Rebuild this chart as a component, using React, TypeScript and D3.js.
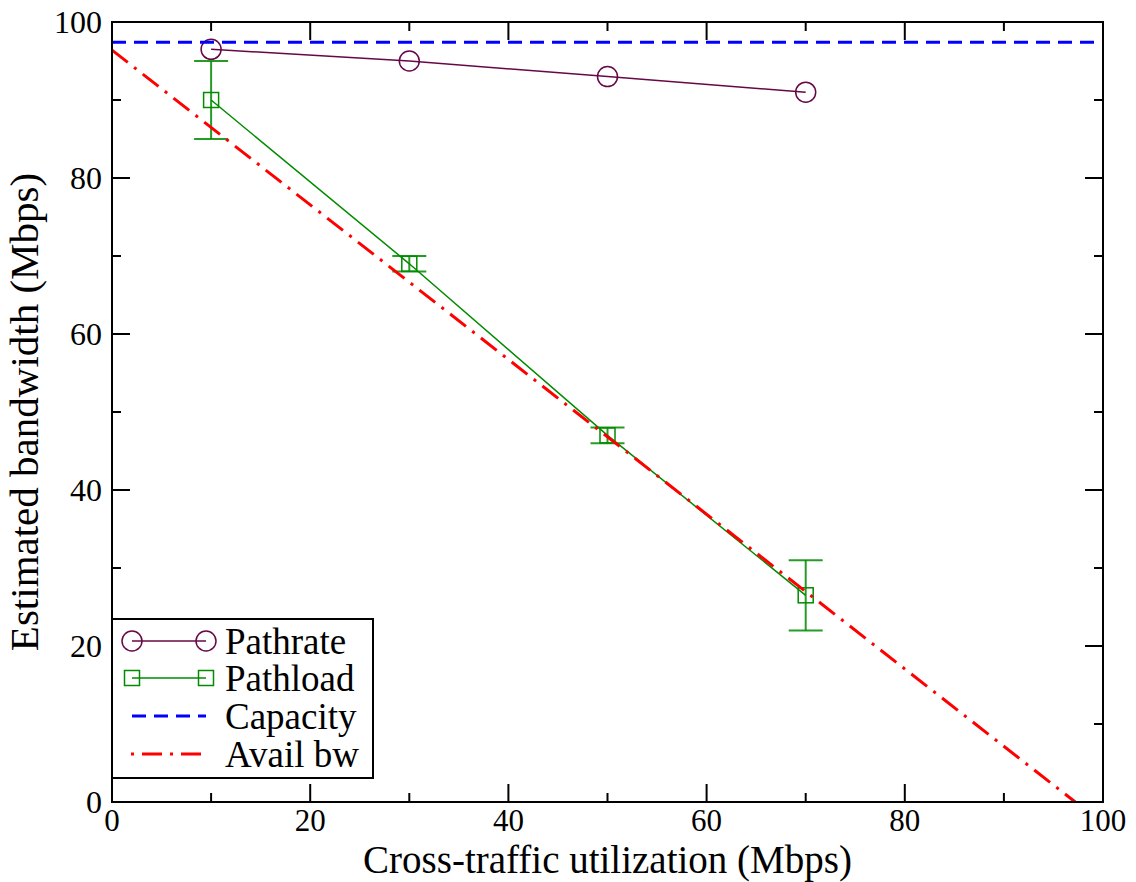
import React from 'react'
import { scaleLinear, line, range } from 'd3'

// measured points
const xVals = [10, 30, 50, 70]
const pathrate = [96.5, 95, 93, 91]
const pathload = [90, 69, 47, 26.5]
const pathloadLow = [85, 68, 46, 22]
const pathloadHigh = [95, 70, 48, 31]

// reference lines
const capacityX = [0, 100]
const capacityY = [97.4, 97.4]
const availX = [0, 97.2]
const availY = [96.4, 0]

const xTicks = [0, 20, 40, 60, 80, 100]
const yTicks = [0, 20, 40, 60, 80, 100]
const legendNames = ['Pathrate', 'Pathload', 'Capacity', 'Avail bw']

const MAROON = '#670748'
const GREEN = '#008b00'
const FONT = "'Liberation Serif', 'Times New Roman', serif"

function Frame(props) {
  const { xScale, yScale } = props
  const [x0, x1] = xScale.range()
  const [y0, y1] = yScale.range()
  const minorX = range(10, 100, 20)
  const minorY = range(10, 100, 20)
  const major = 18
  const minor = 9

  return <g stroke="black" strokeWidth={2}>
    {xTicks.map(t => <g key={'xt' + t}>
      <line x1={xScale(t)} x2={xScale(t)} y1={y0} y2={y0 - major} />
      <line x1={xScale(t)} x2={xScale(t)} y1={y1} y2={y1 + major} />
    </g>)}
    {minorX.map(t => <g key={'xm' + t}>
      <line x1={xScale(t)} x2={xScale(t)} y1={y0} y2={y0 - minor} />
      <line x1={xScale(t)} x2={xScale(t)} y1={y1} y2={y1 + minor} />
    </g>)}
    {yTicks.map(t => <g key={'yt' + t}>
      <line x1={x0} x2={x0 + major} y1={yScale(t)} y2={yScale(t)} />
      <line x1={x1} x2={x1 - major} y1={yScale(t)} y2={yScale(t)} />
    </g>)}
    {minorY.map(t => <g key={'ym' + t}>
      <line x1={x0} x2={x0 + minor} y1={yScale(t)} y2={yScale(t)} />
      <line x1={x1} x2={x1 - minor} y1={yScale(t)} y2={yScale(t)} />
    </g>)}
    <rect x={x0} y={y1} width={x1 - x0} height={y0 - y1} fill="none" />
  </g>
}

function Labels(props) {
  const { xScale, yScale } = props
  const [x0, x1] = xScale.range()
  const [y0, y1] = yScale.range()
  return <g fontFamily={FONT} fill="black">
    {xTicks.map(t => <text key={'xl' + t} x={xScale(t)} y={y0 + 29} fontSize={31} textAnchor="middle">{t}</text>)}
    {yTicks.map(t => <text key={'yl' + t} x={x0 - 10} y={yScale(t)} dy="0.35em" fontSize={32} textAnchor="end">{t}</text>)}
    <text x={(x0 + x1) / 2} y={873} fontSize={39} textAnchor="middle">Cross-traffic utilization (Mbps)</text>
    <text transform={`translate(38,${(y0 + y1) / 2}) rotate(-90)`} fontSize={41} textAnchor="middle">Estimated bandwidth (Mbps)</text>
  </g>
}

function Series(props) {
  const { xScale, yScale } = props
  const pts = (xs, ys) => xs.map((x, i) => [xScale(x), yScale(ys[i])])
  const drawLine = line()
  const capPts = pts(capacityX, capacityY)
  const availPts = pts(availX, availY)

  return <g>
    <path d={drawLine(pts(xVals, pathrate))} fill="none" stroke={MAROON} strokeWidth={1.5} />
    {xVals.map((x, i) => <circle key={'pr' + i} cx={xScale(x)} cy={yScale(pathrate[i])} r={10}
      fill="none" stroke={MAROON} strokeWidth={1.5} />)}

    <path d={drawLine(pts(xVals, pathload))} fill="none" stroke={GREEN} strokeWidth={1.5} />
    {xVals.map((x, i) => {
      const cx = xScale(x)
      const lo = yScale(pathloadLow[i])
      const hi = yScale(pathloadHigh[i])
      return <g key={'eb' + i} stroke={GREEN} strokeWidth={2} strokeOpacity={0.85}>
        <line x1={cx} x2={cx} y1={lo} y2={hi} />
        <line x1={cx - 17} x2={cx + 17} y1={lo} y2={lo} />
        <line x1={cx - 17} x2={cx + 17} y1={hi} y2={hi} />
      </g>
    })}
    {xVals.map((x, i) => <rect key={'pl' + i} x={xScale(x) - 7.5} y={yScale(pathload[i]) - 7.5}
      width={15} height={15} fill="none" stroke={GREEN} strokeWidth={1.5} />)}

    <path d={drawLine(capPts)} fill="none" stroke="#0000ff" strokeWidth={3} strokeDasharray="14,8" />
    <path d={drawLine(availPts)} fill="none" stroke="#ff0000" strokeWidth={3} strokeDasharray="20,8,3,8" />
  </g>
}

function Legend() {
  const bx = 112, by = 619, bw = 261, bh = 159
  const rows = [641, 678, 716, 754]
  const lx0 = 132, lx1 = 206, tx = 225
  return <g fontFamily={FONT}>
    <rect x={bx} y={by} width={bw} height={bh} fill="white" stroke="black" strokeWidth={2} />
    <line x1={lx0} x2={lx1} y1={rows[0]} y2={rows[0]} stroke={MAROON} strokeWidth={1.5} />
    {[lx0, lx1].map(x => <circle key={'lc' + x} cx={x} cy={rows[0]} r={10} fill="none" stroke={MAROON} strokeWidth={1.5} />)}
    <line x1={lx0} x2={lx1} y1={rows[1]} y2={rows[1]} stroke={GREEN} strokeWidth={1.5} />
    {[lx0, lx1].map(x => <rect key={'ls' + x} x={x - 7.5} y={rows[1] - 7.5} width={15} height={15} fill="none" stroke={GREEN} strokeWidth={1.5} />)}
    <line x1={lx0} x2={lx1} y1={rows[2]} y2={rows[2]} stroke="#0000ff" strokeWidth={3} strokeDasharray="14,8" />
    <line x1={lx0 - 1} x2={lx1} y1={rows[3]} y2={rows[3]} stroke="#ff0000" strokeWidth={3} strokeDasharray="3,8,20,8" />
    {legendNames.map((n, i) => <text key={n} x={tx} y={rows[i]} dy="0.35em" fontSize={37}>{n}</text>)}
  </g>
}

export default function App() {
  const xScale = scaleLinear().domain([0, 100]).range([112, 1103])
  const yScale = scaleLinear().domain([0, 100]).range([802, 22])

  return (
    <svg width={1136} height={882} style={{ position: 'absolute', left: 0, top: 0, background: 'white' }}>
      <rect width={1136} height={882} fill="white" />
      <Series xScale={xScale} yScale={yScale} />
      <Frame xScale={xScale} yScale={yScale} />
      <Legend />
      <Labels xScale={xScale} yScale={yScale} />
    </svg>
  )
}
